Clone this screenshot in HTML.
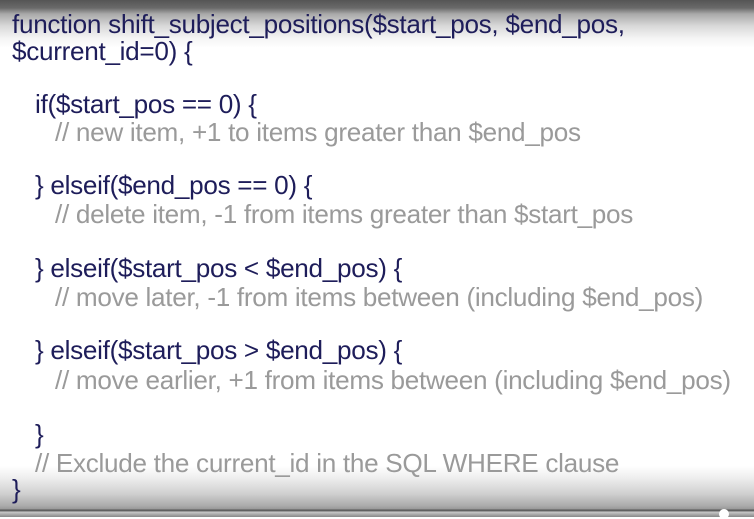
<!DOCTYPE html>
<html><head><meta charset="utf-8"><style>
html,body{margin:0;padding:0;}
body{width:754px;height:517px;position:relative;overflow:hidden;background:#fff;
font-family:"Liberation Sans",Arial,sans-serif;}
.top{position:absolute;left:0;top:0;width:754px;height:48px;
background:linear-gradient(#555 0px,#6a6a6a 8px,#a9a9a9 14px,#d9d9d9 26px,#f4f4f4 38px,#fff 48px);}
.bot{position:absolute;left:0;top:466px;width:754px;height:51px;
background:linear-gradient(#fff 0px,#eee 12px,#cfcfcf 28px,#aaa 40px,#999 43px,#555 44px,#6a6a6a 45px,#c8c8c8 46px,#888 51px);}
.dot{position:absolute;top:509px;width:10px;height:10px;border-radius:50%;background:#fff;left:719px;}
.l{position:absolute;font-size:26px;line-height:26px;white-space:nowrap;transform-origin:0 0;transform:scaleX(1.005);letter-spacing:-0.3px;}
.c{color:#1e1d5a;}
.g{color:#9a9a9a;}
</style></head><body>
<div class="top"></div>
<div class="bot"></div>
<div class="dot"></div>
<div class="l c" style="left:12px;top:11px">function shift_subject_positions($start_pos, $end_pos,</div>
<div class="l c" style="left:12px;top:38px">$current_id=0) {</div>
<div class="l c" style="left:35px;top:91px">if($start_pos == 0) {</div>
<div class="l g" style="left:55px;top:119px">// new item, +1 to items greater than $end_pos</div>
<div class="l c" style="left:35px;top:172px">} elseif($end_pos == 0) {</div>
<div class="l g" style="left:55px;top:201px">// delete item, -1 from items greater than $start_pos</div>
<div class="l c" style="left:35px;top:255px">} elseif($start_pos &lt; $end_pos) {</div>
<div class="l g" style="left:55px;top:284px">// move later, -1 from items between (including $end_pos)</div>
<div class="l c" style="left:35px;top:337px">} elseif($start_pos &gt; $end_pos) {</div>
<div class="l g" style="left:55px;top:367px">// move earlier, +1 from items between (including $end_pos)</div>
<div class="l c" style="left:35px;top:421px">}</div>
<div class="l g" style="left:35px;top:450px">// Exclude the current_id in the SQL WHERE clause</div>
<div class="l c" style="left:12px;top:476px">}</div>
</body></html>
